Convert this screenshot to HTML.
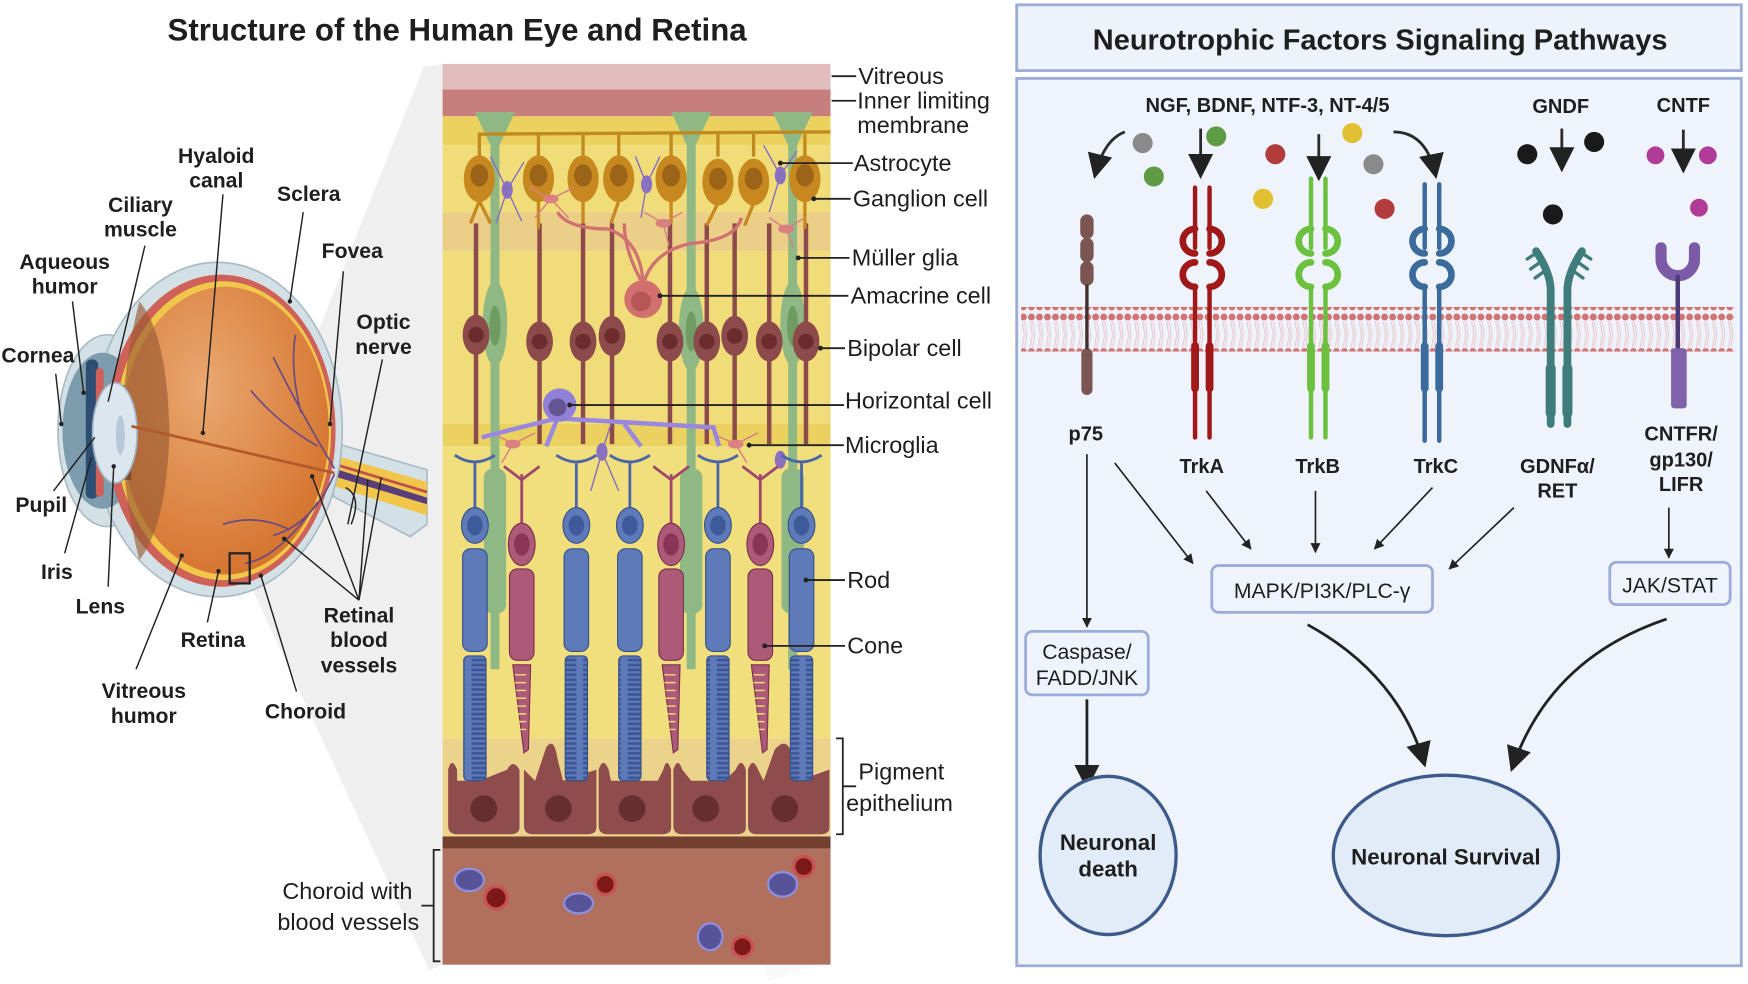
<!DOCTYPE html>
<html><head><meta charset="utf-8"><style>
html,body{margin:0;padding:0;background:#fff;}
svg{display:block;}
.b{font-family:"Liberation Sans",sans-serif;font-weight:bold;fill:#1e1e1e;}
.r{font-family:"Liberation Sans",sans-serif;fill:#1e1e1e;}
</style></head><body>
<svg width="1748" height="984" viewBox="0 0 1568 882" xmlns="http://www.w3.org/2000/svg">
<defs>
<marker id="ah" viewBox="0 0 10 10" refX="9" refY="5" markerWidth="9" markerHeight="9" orient="auto"><path d="M0,0 L10,5 L0,10 z" fill="#222"/></marker>
<marker id="ahb" viewBox="0 0 10 10" refX="9" refY="5" markerWidth="6" markerHeight="6" orient="auto"><path d="M0,0 L10,5 L0,10 z" fill="#222"/></marker>
<pattern id="dots" x="0" y="0" width="7.2" height="40" patternUnits="userSpaceOnUse"><circle cx="3.6" cy="4" r="3.1" fill="#cf7373"/><circle cx="3.6" cy="35" r="3.1" fill="#cf7373"/><path d="M2.5,8 L4.5,20 L2.5,31 M4.7,8 L6.5,20 L4.7,31" stroke="#e6b0b0" stroke-width="0.6" fill="none"/></pattern>
<pattern id="stripe" width="20" height="4.4" patternUnits="userSpaceOnUse"><rect width="20" height="4.4" fill="#5f7ab8"/><rect x="3" y="1" width="14" height="2.4" fill="#3b5596"/></pattern>
<radialGradient id="glob" cx="0.4" cy="0.35" r="0.7"><stop offset="0" stop-color="#eaa870"/><stop offset="1" stop-color="#d4722c"/></radialGradient>
</defs>

<!-- LEFT TITLE -->
<text class="b" x="410" y="36" font-size="28" text-anchor="middle" fill="#333">Structure of the Human Eye and Retina</text>

<!-- grey wedge -->
<polygon points="206,496 380,60 397,57 397,865 385,870 224,523" fill="#efefef"/>
<polygon points="600,80 690,60 745,60 745,860 690,880 600,640" fill="#000" opacity="0.025"/>

<!-- EYE -->
<path d="M300,397 L383,421 L383,470 L368,481 L299,445 Z" fill="#d3e0e6" stroke="#a9bcc6" stroke-width="1.5"/>
<path d="M300,408 L383,432 L383,462 L300,436 Z" fill="#f2c64a"/>
<path d="M300,420 L383,446 L383,452 L300,427 Z" fill="#5a3e7a"/>
<path d="M300,416 L383,441" stroke="#c0504a" stroke-width="2.5"/>
<ellipse cx="96" cy="386" rx="44" ry="86" fill="#d3e0e6" stroke="#a9bcc6" stroke-width="1.5"/>
<ellipse cx="195" cy="385" rx="112" ry="150" fill="#d3e0e6" stroke="#a9bcc6" stroke-width="1.5"/>
<ellipse cx="92" cy="386" rx="36" ry="70" fill="#7d9cad"/>
<ellipse cx="198" cy="386" rx="103" ry="140" fill="#cf6258"/>
<ellipse cx="200" cy="386" rx="97" ry="134" fill="#f1c64a"/>
<ellipse cx="202" cy="386" rx="93" ry="129" fill="url(#glob)"/>
<path d="M125,270 Q95,386 125,502 Q150,470 152,386 Q150,300 125,270 Z" fill="#9a5a34" opacity="0.65"/>
<rect x="77" y="322" width="11" height="125" rx="5" fill="#2d4d72"/>
<rect x="86" y="330" width="7" height="40" rx="3" fill="#d06058"/>
<rect x="86" y="405" width="7" height="40" rx="3" fill="#d06058"/>
<path d="M95,345 L112,345 L118,430 L98,430 Z" fill="#6a3a22" opacity="0.7"/>
<ellipse cx="103" cy="388" rx="20" ry="45" fill="#dbe6ee" stroke="#9fb3c4" stroke-width="1.5"/>
<ellipse cx="108" cy="390" rx="4" ry="18" fill="#b7c9d8"/>
<path d="M118,382 L300,424" stroke="#b25a2a" stroke-width="2.5" fill="none"/>
<path d="M300,420 Q270,370 245,320 M285,400 Q250,380 225,350 M270,370 Q260,330 265,300 M300,425 Q280,470 245,480 M285,450 Q250,500 220,505 M260,475 Q230,460 200,470" stroke="#6a4a80" stroke-width="1.5" fill="none"/>
<rect x="206" y="496" width="18" height="27" fill="none" stroke="#222" stroke-width="2"/>

<!-- eye labels -->
<g class="b" font-size="19" text-anchor="middle">
<text x="194" y="146">Hyaloid</text><text x="194" y="168">canal</text>
<text x="126" y="190">Ciliary</text><text x="126" y="212">muscle</text>
<text x="277" y="180">Sclera</text>
<text x="58" y="241">Aqueous</text><text x="58" y="263">humor</text>
<text x="316" y="231">Fovea</text>
<text x="344" y="295">Optic</text><text x="344" y="317">nerve</text>
<text x="34" y="325">Cornea</text>
<text x="37" y="459">Pupil</text>
<text x="51" y="519">Iris</text>
<text x="90" y="550">Lens</text>
<text x="191" y="580">Retina</text>
<text x="129" y="626">Vitreous</text><text x="129" y="648">humor</text>
<text x="274" y="644">Choroid</text>
<text x="322" y="558">Retinal</text><text x="322" y="580">blood</text><text x="322" y="603">vessels</text>
</g>
<g stroke="#222" stroke-width="1.3" fill="none">
<path d="M200,174 L182,388"/><path d="M130,220 L97,360"/><path d="M272,190 L260,270"/>
<path d="M65,270 L75,352"/><path d="M308,243 L296,380"/><path d="M343,322 L312,470"/>
<path d="M50,335 L55,380"/><path d="M48,440 L85,392"/><path d="M58,496 L82,410"/>
<path d="M97,526 L102,418"/><path d="M186,558 L196,512"/><path d="M122,600 L163,498"/>
<path d="M266,620 L234,516"/>
<path d="M322,538 L280,427 M322,538 L255,483 M322,538 L330,430 M322,538 L342,428"/>
<path d="M310,437 Q325,445 315,470"/>
</g>
<g fill="#222"><circle cx="182" cy="388" r="2"/><circle cx="260" cy="270" r="2"/><circle cx="75" cy="352" r="2"/><circle cx="296" cy="380" r="2"/><circle cx="55" cy="380" r="2"/><circle cx="102" cy="418" r="2"/><circle cx="163" cy="498" r="2"/><circle cx="196" cy="512" r="2"/><circle cx="234" cy="516" r="2"/><circle cx="255" cy="483" r="2"/><circle cx="280" cy="427" r="2"/></g>

<!-- RETINA PANEL -->
<rect x="397" y="57" width="348" height="23" fill="#e1bdbd"/>
<rect x="397" y="80" width="348" height="24" fill="#c67f7d"/>
<rect x="397" y="104" width="348" height="26" fill="#ebd25e"/>
<rect x="397" y="130" width="348" height="60" fill="#f0dc78"/>
<rect x="397" y="190" width="348" height="35" fill="#eccf86"/>
<rect x="397" y="225" width="348" height="155" fill="#f0dc78"/>
<rect x="397" y="380" width="348" height="20" fill="#ebd160"/>
<rect x="397" y="400" width="348" height="262" fill="#f1de7c"/>
<rect x="397" y="662" width="348" height="88" fill="#ecd38c"/>
<rect x="397" y="750" width="348" height="11" fill="#733f2f"/>
<rect x="397" y="761" width="348" height="104" fill="#b0705d"/>

<!-- Muller glia -->
<g fill="#8fb884">
<path d="M426,100 L462,100 L448,130 L448,600 L440,600 L440,130 Z"/>
<path d="M602,100 L638,100 L624,130 L624,600 L616,600 L616,130 Z"/>
<path d="M693,100 L729,100 L715,130 L715,600 L707,600 L707,130 Z"/>
<ellipse cx="444" cy="290" rx="11" ry="38"/><ellipse cx="620" cy="295" rx="11" ry="38"/><ellipse cx="711" cy="290" rx="11" ry="38"/>
<rect x="434" y="420" width="20" height="130" rx="8"/><rect x="610" y="420" width="20" height="130" rx="8"/><rect x="701" y="420" width="20" height="130" rx="8"/>
</g>
<g fill="#6f9c62"><ellipse cx="444" cy="292" rx="5" ry="18"/><ellipse cx="620" cy="297" rx="5" ry="18"/><ellipse cx="711" cy="292" rx="5" ry="18"/></g>

<!-- ganglion axons -->
<path d="M430,140 L430,120 L745,118" stroke="#c08a20" stroke-width="3" fill="none"/>
<g stroke="#c08a20" stroke-width="3"><path d="M483,140 V120 M523,140 V120 M555,140 V120 M602,140 V120 M644,140 V120 M676,140 V120 M722,140 V120"/></g>
<!-- bipolar -->
<g stroke="#8c4a4a" stroke-width="4" fill="none">
<path d="M427,200 V398 M484,200 V398 M523,200 V398 M549,200 V398 M601,200 V398 M634,200 V398 M659,200 V398 M690,200 V398 M723,200 V398"/>
</g>
<!-- ganglion -->
<g fill="#c7891f">
<ellipse cx="430" cy="160" rx="14" ry="21"/><ellipse cx="483" cy="160" rx="14" ry="21"/><ellipse cx="523" cy="160" rx="14" ry="21"/><ellipse cx="555" cy="160" rx="14" ry="21"/><ellipse cx="602" cy="160" rx="14" ry="21"/><ellipse cx="644" cy="163" rx="14" ry="21"/><ellipse cx="676" cy="163" rx="14" ry="21"/><ellipse cx="722" cy="160" rx="14" ry="21"/>
</g>
<g stroke="#c7891f" stroke-width="3" fill="none"><path d="M430,180 L422,200 M430,180 L440,200 M483,180 V205 M523,180 V200 M555,180 L548,200 M602,180 V200 M644,182 L634,202 M676,182 L668,202 M722,180 V205"/></g>
<g fill="#9b6418">
<ellipse cx="430" cy="157" rx="8" ry="10"/><ellipse cx="483" cy="157" rx="8" ry="10"/><ellipse cx="523" cy="157" rx="8" ry="10"/><ellipse cx="555" cy="157" rx="8" ry="10"/><ellipse cx="602" cy="157" rx="8" ry="10"/><ellipse cx="644" cy="160" rx="8" ry="10"/><ellipse cx="676" cy="160" rx="8" ry="10"/><ellipse cx="722" cy="157" rx="8" ry="10"/>
</g>
<!-- amacrine -->
<path d="M577,255 Q575,215 545,205 Q510,205 500,190 M577,255 Q585,225 620,218 Q660,215 665,195 M577,255 Q560,225 560,200" stroke="#d07272" stroke-width="3" fill="none"/>
<circle cx="577" cy="268" r="17" fill="#d27070"/><circle cx="575" cy="270" r="9" fill="#b65656"/>
<!-- astrocytes / microglia -->
<g stroke="#8a70c0" stroke-width="1.3" fill="none"><path d="M455,170 L440,140 M455,170 L470,145 M455,170 L445,200 M455,170 L468,198 M580,165 L570,140 M580,165 L592,140 M580,165 L575,195 M700,157 L685,130 M700,157 L715,135 M700,157 L690,190 M540,405 L530,440 M540,405 L555,440 M540,405 L548,380"/></g>
<g fill="#8a70c0"><ellipse cx="455" cy="170" rx="5" ry="8"/><ellipse cx="580" cy="165" rx="5" ry="8"/><ellipse cx="700" cy="157" rx="5" ry="8"/><ellipse cx="540" cy="405" rx="5" ry="8"/><ellipse cx="700" cy="412" rx="5" ry="8"/></g>
<g stroke="#d98080" stroke-width="1.3" fill="none"><path d="M494,178 L475,168 M494,178 L515,168 M494,178 L480,195 M494,178 L510,195 M595,200 L578,190 M595,200 L612,190 M595,200 L600,220 M705,205 L690,195 M705,205 L722,195 M705,205 L712,222 M460,398 L442,388 M460,398 L480,388 M460,398 L450,415 M660,398 L642,390 M660,398 L680,388 M660,398 L670,415"/></g>
<g fill="#d98080"><ellipse cx="494" cy="178" rx="7" ry="4"/><ellipse cx="595" cy="200" rx="7" ry="4"/><ellipse cx="705" cy="205" rx="7" ry="4"/><ellipse cx="460" cy="398" rx="7" ry="4"/><ellipse cx="660" cy="398" rx="7" ry="4"/></g>
<!-- bipolar bodies -->
<g fill="#8c4a4a">
<ellipse cx="427" cy="300" rx="12" ry="18"/><ellipse cx="484" cy="306" rx="12" ry="18"/><ellipse cx="523" cy="306" rx="12" ry="18"/><ellipse cx="549" cy="301" rx="12" ry="18"/><ellipse cx="601" cy="306" rx="12" ry="18"/><ellipse cx="634" cy="306" rx="12" ry="18"/><ellipse cx="659" cy="301" rx="12" ry="18"/><ellipse cx="690" cy="306" rx="12" ry="18"/><ellipse cx="723" cy="306" rx="12" ry="18"/>
</g>
<g fill="#6a2c2c">
<circle cx="427" cy="300" r="7"/><circle cx="484" cy="306" r="7"/><circle cx="523" cy="306" r="7"/><circle cx="549" cy="301" r="7"/><circle cx="601" cy="306" r="7"/><circle cx="634" cy="306" r="7"/><circle cx="659" cy="301" r="7"/><circle cx="690" cy="306" r="7"/><circle cx="723" cy="306" r="7"/>
</g>
<!-- horizontal cell -->
<path d="M432,392 Q470,382 500,375 L640,383 L645,400 M500,375 L490,400 M560,380 L575,400" stroke="#9a88e0" stroke-width="4" fill="none"/>
<circle cx="502" cy="363" r="15" fill="#9080d8"/><circle cx="500" cy="365" r="8" fill="#655595"/>

<!-- pigment epithelium cells -->
<g fill="#8e4c4c">
<path d="M402,690 Q405,678 410,690 L410,700 L430,700 L455,690 Q460,680 466,690 L466,742 Q466,748 458,748 L410,748 Q402,748 402,740 Z"/>
<path d="M470,690 L480,700 L490,670 Q497,660 500,680 L505,700 L535,690 L535,742 Q535,748 527,748 L478,748 Q470,748 470,740 Z"/>
<path d="M537,690 Q541,678 546,690 L548,700 L590,700 L595,690 Q598,678 602,690 L602,742 Q602,748 594,748 L545,748 Q537,748 537,740 Z"/>
<path d="M604,690 Q608,678 612,690 L620,700 L650,700 L660,690 Q665,678 669,690 L669,742 Q669,748 661,748 L612,748 Q604,748 604,740 Z"/>
<path d="M671,690 Q675,678 680,690 L685,700 L695,672 Q705,660 710,675 L716,700 L744,690 L744,742 Q744,748 736,748 L679,748 Q671,748 671,740 Z"/>
</g>
<g fill="#672e2e"><circle cx="434" cy="725" r="12"/><circle cx="501" cy="725" r="12"/><circle cx="567" cy="725" r="12"/><circle cx="633" cy="725" r="12"/><circle cx="704" cy="725" r="12"/></g>

<!-- rods -->
<g id="rods">
<g stroke="#4a66a8" stroke-width="2.5" fill="none"><path d="M408,408 Q426,420 444,408 M426,415 V455 M499,408 Q517,420 535,408 M517,415 V455 M547,408 Q565,420 583,408 M565,415 V455 M626,408 Q644,420 662,408 M644,415 V455 M701,408 Q719,420 737,408 M719,415 V455"/></g>
<g fill="#5f7ab8" stroke="#34508a" stroke-width="1">
<ellipse cx="426" cy="471" rx="12" ry="16"/><rect x="415" y="492" width="22" height="92" rx="7"/>
<ellipse cx="517" cy="471" rx="12" ry="16"/><rect x="506" y="492" width="22" height="92" rx="7"/>
<ellipse cx="565" cy="471" rx="12" ry="16"/><rect x="554" y="492" width="22" height="92" rx="7"/>
<ellipse cx="644" cy="471" rx="12" ry="16"/><rect x="633" y="492" width="22" height="92" rx="7"/>
<ellipse cx="719" cy="471" rx="12" ry="16"/><rect x="708" y="492" width="22" height="92" rx="7"/>
</g>
<g fill="#3d5a9a"><ellipse cx="426" cy="471" rx="7" ry="9"/><ellipse cx="517" cy="471" rx="7" ry="9"/><ellipse cx="565" cy="471" rx="7" ry="9"/><ellipse cx="644" cy="471" rx="7" ry="9"/><ellipse cx="719" cy="471" rx="7" ry="9"/></g>
<g stroke="#34508a" stroke-width="1">
<rect x="416" y="588" width="20" height="112" rx="4" fill="url(#stripe)"/>
<rect x="507" y="588" width="20" height="112" rx="4" fill="url(#stripe)"/>
<rect x="555" y="588" width="20" height="112" rx="4" fill="url(#stripe)"/>
<rect x="634" y="588" width="20" height="112" rx="4" fill="url(#stripe)"/>
<rect x="709" y="588" width="20" height="112" rx="4" fill="url(#stripe)"/>
</g>
</g>
<!-- cones -->
<g stroke="#a0486a" stroke-width="2.5" fill="none"><path d="M452,418 L468,430 L484,418 M468,425 V470 M586,418 L602,430 L618,418 M602,425 V470 M666,418 L682,430 L698,418 M682,425 V470"/></g>
<g fill="#ac5a78" stroke="#7a2e4e" stroke-width="1">
<ellipse cx="468" cy="488" rx="12" ry="19"/><rect x="457" y="510" width="22" height="82" rx="7"/>
<ellipse cx="602" cy="488" rx="12" ry="19"/><rect x="591" y="510" width="22" height="82" rx="7"/>
<ellipse cx="682" cy="488" rx="12" ry="19"/><rect x="671" y="510" width="22" height="82" rx="7"/>
<path d="M460,596 L476,596 L474,672 L470,675 Z"/><path d="M594,596 L610,596 L608,672 L604,675 Z"/><path d="M674,596 L690,596 L688,672 L684,675 Z"/>
</g>
<g fill="#8a3458"><ellipse cx="468" cy="488" rx="7" ry="10"/><ellipse cx="602" cy="488" rx="7" ry="10"/><ellipse cx="682" cy="488" rx="7" ry="10"/></g>
<g stroke="#f0dc78" stroke-width="1.3"><path d="M462,605 H472 M462,612 H472 M463,619 H472 M463,626 H472 M464,633 H472 M465,640 H472 M466,647 H472 M467,654 H472 M596,605 H606 M596,612 H606 M597,619 H606 M597,626 H606 M598,633 H606 M599,640 H606 M600,647 H606 M601,654 H606 M676,605 H686 M676,612 H686 M677,619 H686 M677,626 H686 M678,633 H686 M679,640 H686 M680,647 H686 M681,654 H686"/></g>

<!-- choroid vessels -->
<g fill="#565398" stroke="#8f8fe0" stroke-width="2"><ellipse cx="421" cy="789" rx="13" ry="10"/><ellipse cx="519" cy="810" rx="13" ry="9"/><ellipse cx="702" cy="793" rx="13" ry="11"/><ellipse cx="637" cy="840" rx="11" ry="12"/></g>
<g fill="#7d1818" stroke="#c85252" stroke-width="3"><circle cx="445" cy="805" r="10"/><circle cx="543" cy="793" r="9"/><circle cx="721" cy="777" r="9"/><circle cx="666" cy="849" r="9"/></g>

<!-- retina labels -->
<g stroke="#222" stroke-width="1.6" fill="none">
<path d="M746,68 H768 M746,90 H768 M700,146 H765 M730,178 H763 M716,231 H762 M592,265 H761 M736,312 H758 M511,363 H757 M672,399 H757 M723,520 H758 M686,579 H758"/>
<path d="M750,662 H756 V748 H750 M756,705 H768"/>
<path d="M395,762 H389 V862 H395 M389,812 H378"/>
</g>
<g fill="#222"><circle cx="700" cy="146" r="2.2"/><circle cx="730" cy="178" r="2.2"/><circle cx="716" cy="231" r="2.2"/><circle cx="592" cy="265" r="2.2"/><circle cx="736" cy="312" r="2.2"/><circle cx="511" cy="363" r="2.2"/><circle cx="672" cy="399" r="2.2"/><circle cx="723" cy="520" r="2.2"/><circle cx="686" cy="579" r="2.2"/></g>
<g class="r" font-size="21">
<text x="770" y="75">Vitreous</text>
<text x="769" y="97">Inner limiting</text><text x="769" y="119">membrane</text>
<text x="766" y="153">Astrocyte</text>
<text x="765" y="185">Ganglion cell</text>
<text x="764" y="238">Müller glia</text>
<text x="763" y="272">Amacrine cell</text>
<text x="760" y="319">Bipolar cell</text>
<text x="758" y="366">Horizontal cell</text>
<text x="758" y="406">Microglia</text>
<text x="760" y="527">Rod</text>
<text x="760" y="586">Cone</text>
<text x="770" y="699">Pigment</text><text x="759" y="727">epithelium</text>
<text x="370" y="806" text-anchor="end">Choroid with</text><text x="376" y="834" text-anchor="end">blood vessels</text>
</g>

<!-- RIGHT PANEL -->
<rect x="912" y="4" width="650" height="59" fill="#eef2fb" stroke="#9cacd8" stroke-width="2.5"/>
<text class="b" x="1238" y="44" font-size="26" text-anchor="middle">Neurotrophic Factors Signaling Pathways</text>
<rect x="912" y="70" width="650" height="796" fill="#eef3fc" stroke="#9cacd8" stroke-width="2.5"/>

<g class="b" font-size="18" text-anchor="middle">
<text x="1137" y="100">NGF, BDNF,  NTF-3, NT-4/5</text>
<text x="1400" y="101">GNDF</text>
<text x="1510" y="100">CNTF</text>
</g>
<!-- ligand dots -->
<g><circle cx="1025" cy="128" r="9" fill="#8a8a8a"/><circle cx="1232" cy="147" r="9" fill="#8a8a8a"/>
<circle cx="1091" cy="122" r="9" fill="#5f9a45"/><circle cx="1035" cy="158" r="9" fill="#5f9a45"/>
<circle cx="1144" cy="138" r="9" fill="#b23c3c"/><circle cx="1242" cy="187" r="9" fill="#b23c3c"/>
<circle cx="1213" cy="119" r="9" fill="#e0c030"/><circle cx="1133" cy="178" r="9" fill="#e0c030"/>
<circle cx="1370" cy="138" r="9" fill="#1a1a1a"/><circle cx="1430" cy="127" r="9" fill="#1a1a1a"/><circle cx="1393" cy="192" r="9" fill="#1a1a1a"/>
<circle cx="1485" cy="139" r="8" fill="#b03c98"/><circle cx="1532" cy="139" r="8" fill="#b03c98"/><circle cx="1524" cy="186" r="8" fill="#b03c98"/></g>
<g stroke="#2a2a2a" stroke-width="2.5" fill="none" marker-end="url(#ah)">
<path d="M1009,118 Q990,125 982,158"/>
<path d="M1250,118 Q1280,118 1288,158"/>
<path d="M1077,115 V158"/><path d="M1183,120 V160"/><path d="M1401,115 V152"/><path d="M1510,116 V153"/>
</g>

<!-- membrane -->
<rect x="916" y="275" width="640" height="40" fill="url(#dots)"/>

<!-- p75 -->
<g fill="#7a5552"><rect x="969" y="192" width="12" height="22" rx="6"/><rect x="969" y="213" width="12" height="22" rx="6"/><rect x="969" y="234" width="12" height="22" rx="6"/><rect x="970" y="312" width="10" height="42" rx="5"/></g>
<path d="M975,255 V313" stroke="#3f2f2f" stroke-width="3"/>
<!-- Trk receptors -->
<g id="trk" fill="none" stroke-linecap="round">
<g stroke="#a01818">
<path d="M1072,168 V222 M1085,168 V222" stroke-width="4" stroke-dasharray="3 1"/>
<path d="M1072,205 A11,11 0 1 0 1072,227 M1072,235 A11,11 0 1 0 1072,257 M1085,205 A11,11 0 1 1 1085,227 M1085,235 A11,11 0 1 1 1085,257" stroke-width="6"/>
<path d="M1072,257 V392 M1085,257 V392" stroke-width="4"/>
<path d="M1072,310 V348 M1085,310 V348" stroke-width="7"/>
</g>
<g stroke="#6bc13d">
<path d="M1176,160 V222 M1189,160 V222" stroke-width="4" stroke-dasharray="3 1"/>
<path d="M1176,205 A11,11 0 1 0 1176,227 M1176,235 A11,11 0 1 0 1176,257 M1189,205 A11,11 0 1 1 1189,227 M1189,235 A11,11 0 1 1 1189,257" stroke-width="6"/>
<path d="M1176,257 V392 M1189,257 V392" stroke-width="4"/>
<path d="M1176,310 V348 M1189,310 V348" stroke-width="7"/>
</g>
<g stroke="#3b6a9c">
<path d="M1278,165 V222 M1291,165 V222" stroke-width="4" stroke-dasharray="3 1"/>
<path d="M1278,205 A11,11 0 1 0 1278,227 M1278,235 A11,11 0 1 0 1278,257 M1291,205 A11,11 0 1 1 1291,227 M1291,235 A11,11 0 1 1 1291,257" stroke-width="6"/>
<path d="M1278,257 V395 M1291,257 V395" stroke-width="4"/>
<path d="M1278,310 V348 M1291,310 V348" stroke-width="7"/>
</g>
<!-- GDNF/RET -->
<g stroke="#3e7d7b">
<path d="M1391,380 V260 Q1391,245 1378,225" stroke-width="7"/>
<path d="M1406,380 V260 Q1406,245 1419,225" stroke-width="7"/>
<path d="M1391,330 V370 M1406,330 V370" stroke-width="9"/>
<path d="M1376,228 L1370,232 M1380,236 L1373,241 M1384,244 L1377,249 M1421,228 L1427,232 M1417,236 L1424,241 M1413,244 L1420,249" stroke-width="3"/>
</g>
<!-- CNTFR -->
<path d="M1490,222 V232 A15,15 0 0 0 1520,232 V222" stroke="#7b5aa8" stroke-width="10"/>
<path d="M1505,248 V313" stroke="#4a3a78" stroke-width="4"/>
</g>
<rect x="1499" y="312" width="14" height="54" rx="3" fill="#8062aa"/>

<!-- receptor labels -->
<g class="b" font-size="18" text-anchor="middle">
<text x="974" y="395">p75</text>
<text x="1078" y="424">TrkA</text>
<text x="1182" y="424">TrkB</text>
<text x="1288" y="424">TrkC</text>
<text x="1397" y="424">GDNFα/</text><text x="1397" y="446">RET</text>
<text x="1508" y="395">CNTFR/</text><text x="1508" y="418">gp130/</text><text x="1508" y="440">LIFR</text>
</g>

<!-- arrows to pathway -->
<g stroke="#222" stroke-width="1.5" fill="none" marker-end="url(#ahb)">
<path d="M975,407 V562"/>
<path d="M1000,415 L1070,505"/>
<path d="M1082,440 L1122,492"/>
<path d="M1180,440 V495"/>
<path d="M1285,437 L1233,492"/>
<path d="M1358,455 L1300,510"/>
<path d="M1497,455 V500"/>
</g>
<!-- boxes -->
<rect x="1087" y="507" width="198" height="42" rx="6" fill="#eef3fc" stroke="#9cacd8" stroke-width="2.5"/>
<text class="r" x="1186" y="536" font-size="19" text-anchor="middle">MAPK/PI3K/PLC-γ</text>
<rect x="1444" y="504" width="108" height="38" rx="6" fill="#eef3fc" stroke="#9cacd8" stroke-width="2.5"/>
<text class="r" x="1498" y="531" font-size="19" text-anchor="middle">JAK/STAT</text>
<rect x="920" y="566" width="110" height="57" rx="6" fill="#eef3fc" stroke="#9cacd8" stroke-width="2.5"/>
<text class="r" x="975" y="591" font-size="19" text-anchor="middle">Caspase/</text>
<text class="r" x="975" y="614" font-size="19" text-anchor="middle">FADD/JNK</text>

<g stroke="#222" stroke-width="2.5" fill="none" marker-end="url(#ah)">
<path d="M975,627 V706"/>
<path d="M1173,560 Q1255,605 1278,686"/>
<path d="M1495,555 Q1390,590 1356,690"/>
</g>

<ellipse cx="994" cy="767" rx="61" ry="71" fill="#e2ecf8" stroke="#3d5a8a" stroke-width="3"/>
<text class="b" x="994" y="762" font-size="20" text-anchor="middle">Neuronal</text>
<text class="b" x="994" y="786" font-size="20" text-anchor="middle">death</text>
<ellipse cx="1297" cy="767" rx="101" ry="72" fill="#e2ecf8" stroke="#3d5a8a" stroke-width="3"/>
<text class="b" x="1297" y="775" font-size="20" text-anchor="middle">Neuronal Survival</text>
</svg>
</body></html>
